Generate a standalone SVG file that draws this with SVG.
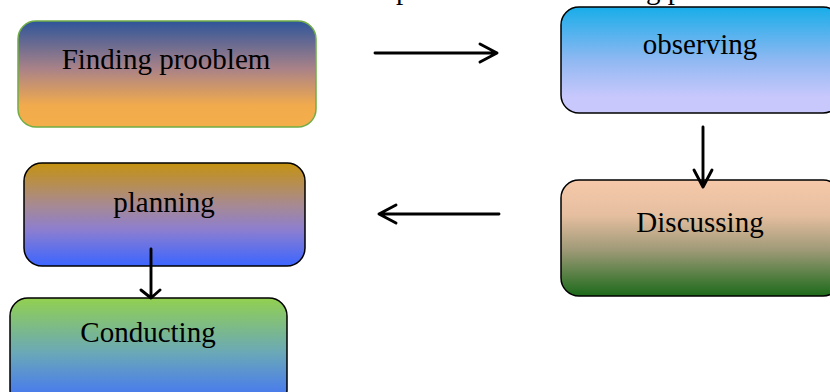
<svg xmlns="http://www.w3.org/2000/svg" width="830" height="392" viewBox="0 0 830 392">
  <defs>
    <linearGradient id="gFinding" x1="0" y1="0" x2="0" y2="1">
      <stop offset="0" stop-color="#2e5599"/>
      <stop offset="0.45" stop-color="#a98288"/>
      <stop offset="0.8" stop-color="#f2ab4c"/>
      <stop offset="1" stop-color="#f4ae4a"/>
    </linearGradient>
    <linearGradient id="gObserving" x1="0" y1="0" x2="0" y2="1">
      <stop offset="0" stop-color="#18ade9"/>
      <stop offset="0.5" stop-color="#8fb8f2"/>
      <stop offset="0.85" stop-color="#c8c8fc"/>
      <stop offset="1" stop-color="#c8c8fc"/>
    </linearGradient>
    <linearGradient id="gDiscussing" x1="0" y1="0" x2="0" y2="1">
      <stop offset="0" stop-color="#f5c9aa"/>
      <stop offset="0.3" stop-color="#e6bfa0"/>
      <stop offset="0.6" stop-color="#a09a78"/>
      <stop offset="1" stop-color="#1c6a1a"/>
    </linearGradient>
    <linearGradient id="gPlanning" x1="0" y1="0" x2="0" y2="1">
      <stop offset="0" stop-color="#c59210"/>
      <stop offset="0.4" stop-color="#a88a90"/>
      <stop offset="0.65" stop-color="#8c7ed0"/>
      <stop offset="1" stop-color="#3b65ff"/>
    </linearGradient>
    <linearGradient id="gConducting" x1="0" y1="0" x2="0" y2="1">
      <stop offset="0" stop-color="#92d050"/>
      <stop offset="0.5" stop-color="#6aa8b8"/>
      <stop offset="1" stop-color="#3d6bff"/>
    </linearGradient>
  </defs>
  <style>
    .box { stroke: #000; stroke-width: 1.5; }
    .label { font-family: "Liberation Serif", "Times New Roman", serif; font-size: 29px; fill: #000; text-anchor: middle; }
    .title { font-family: "Liberation Serif", "Times New Roman", serif; font-size: 29px; fill: #000; }
    .conn { fill: none; stroke: #000; stroke-width: 2.9; stroke-linecap: round; stroke-linejoin: round; }
  </style>

  <!-- heading line above the chart, mostly outside the canvas -->
  <text class="title" x="396" y="-1">p</text>
  <text class="title" x="646" y="-1">g p</text>

  <g id="node-finding">
    <rect x="18" y="21" width="298" height="106" rx="18" fill="url(#gFinding)" stroke="#70ad47" stroke-width="1.5"/>
    <text class="label" x="166" y="69">Finding prooblem</text>
  </g>

  <g id="node-observing">
    <rect class="box" x="561" y="7" width="280" height="106" rx="18" fill="url(#gObserving)"/>
    <text class="label" x="700" y="54">observing</text>
  </g>

  <g id="node-discussing">
    <rect class="box" x="561" y="180" width="280" height="116" rx="18" fill="url(#gDiscussing)"/>
    <text class="label" x="700" y="232">Discussing</text>
  </g>

  <g id="node-planning">
    <rect class="box" x="24" y="163" width="281" height="103" rx="18" fill="url(#gPlanning)"/>
    <text class="label" x="164" y="212">planning</text>
  </g>

  <g id="node-conducting">
    <rect class="box" x="10" y="298" width="277" height="110" rx="18" fill="url(#gConducting)"/>
    <text class="label" x="148" y="342">Conducting</text>
  </g>

  <g id="connectors">
    <!-- finding -> observing -->
    <path class="conn" d="M375 53 H497 M480 44 L497 53 L480 62"/>
    <!-- observing -> discussing -->
    <path class="conn" d="M703 127 V187 M694 170 L703 187 L712 170"/>
    <!-- discussing -> planning -->
    <path class="conn" d="M499 214 H379 M396 205 L379 214 L396 223"/>
    <!-- planning -> conducting -->
    <path class="conn" d="M151 249 V298 M141 290 L151 298 L160 290"/>
  </g>
</svg>
